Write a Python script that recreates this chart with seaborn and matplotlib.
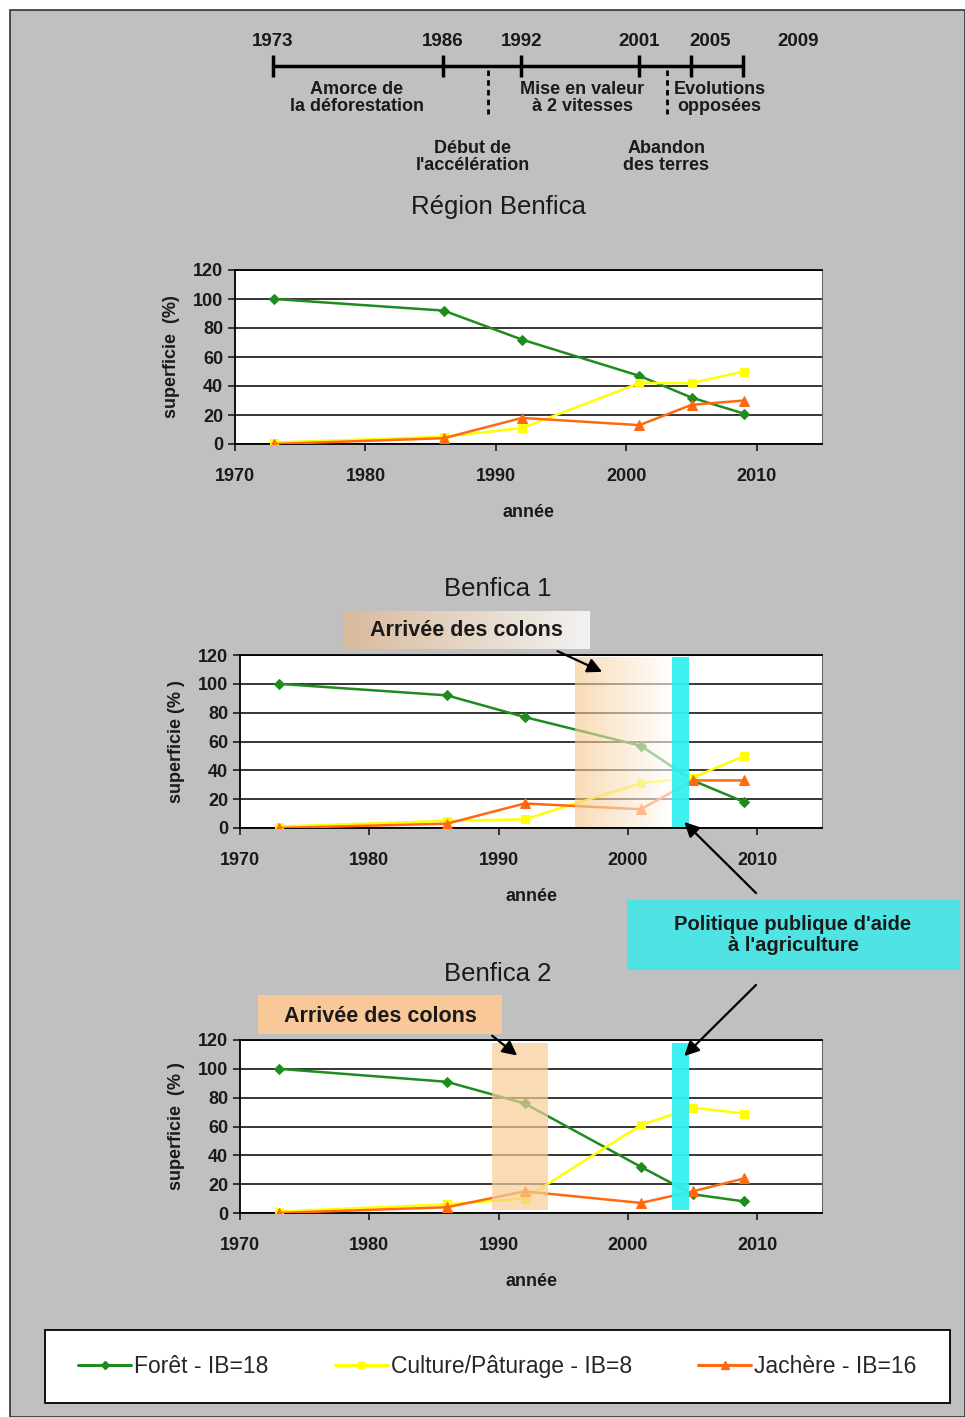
import numpy as np
import pandas as pd
import seaborn as sns
import matplotlib.pyplot as plt
from matplotlib.patches import Rectangle
from matplotlib.lines import Line2D

# data (superficie %, per year)
years = [1973, 1986, 1992, 2001, 2005, 2009]
series = ["Forêt - IB=18", "Culture/Pâturage - IB=8", "Jachère - IB=16"]

region_foret = [100, 92, 72, 47, 32, 21]
region_culture = [1, 5, 11, 42, 42, 50]
region_jachere = [0, 4, 18, 13, 27, 30]

b1_foret = [100, 92, 77, 57, 33, 18]
b1_culture = [1, 5, 6, 31, 35, 50]
b1_jachere = [0, 3, 17, 13, 33, 33]

b2_foret = [100, 91, 76, 32, 13, 8]
b2_culture = [1, 6, 10, 61, 73, 69]
b2_jachere = [0, 4, 15, 7, 15, 24]

# timeline on top
timeline_years = [1973, 1986, 1992, 2001, 2005, 2009]
timeline_label_shift = [0, 0, 0, 0, 1.45, 4.2]
phase_breaks = [1989.5, 2003.2]
phases_top = [("Amorce de\nla déforestation", 1979.4),
              ("Mise en valeur\nà 2 vitesses", 1996.7),
              ("Evolutions\nopposées", 2007.2)]
phases_bottom = [("Début de\nl'accélération", 1988.3),
                 ("Abandon\ndes terres", 2003.1)]

colors = ["#1e8c1e", "#ffff00", "#ff6a10"]
markers = ["D", "s", "^"]
msizes = [5, 6, 7]

GRAY = "#c0c0c0"
TXT = "#1a1a1a"

sns.set_style("ticks")
plt.rcParams['font.family'] = ['Liberation Sans', 'DejaVu Sans']

W, H = 965, 1417
def fx(x):
    return x / W
def fy(y):
    return 1 - y / H

fig = plt.figure(figsize=(W / 100, H / 100), dpi=100)
fig.patch.set_facecolor("white")
fig.add_artist(Rectangle((fx(10), 0), 1 - fx(10), fy(10), transform=fig.transFigure,
                         facecolor=GRAY, edgecolor="#333333", lw=1.2, zorder=0))

# ---- timeline ----
px_per_year = 13.06
tax = fig.add_axes([fx(200), fy(190), fx(870) - fx(200), 170 / H])
tax.set_xlim(1973 - 73 / px_per_year, 1973 + 597 / px_per_year)
tax.set_ylim(190, 20)
tax.axis("off")
tax.plot([timeline_years[0], timeline_years[-1]], [66, 66], color="black", lw=2.5)
tax.vlines(timeline_years, 55, 77, color="black", lw=2.5)
tax.vlines(phase_breaks, 70, 114, color="black", lw=2, linestyles=(0, (2, 1.5)))
for yr, sh in zip(timeline_years, timeline_label_shift):
    tax.text(yr + sh, 42, str(yr), ha="center", va="center", fontsize=13.5,
             fontweight="bold", color=TXT)
for txt, x in phases_top:
    tax.text(x, 98, txt, ha="center", va="center", fontsize=13, fontweight="bold",
             color=TXT, linespacing=1.05)
for txt, x in phases_bottom:
    tax.text(x, 157, txt, ha="center", va="center", fontsize=13, fontweight="bold",
             color=TXT, linespacing=1.05)

# ---- the three charts ----
panels = [
    ("Région Benfica", [region_foret, region_culture, region_jachere], (235, 270, 822, 444), "superficie  (%)", 207, None),
    ("Benfica 1", [b1_foret, b1_culture, b1_jachere], (240, 655, 822, 828), "superficie (% )", 589, (1995.9, 2003.4)),
    ("Benfica 2", [b2_foret, b2_culture, b2_jachere], (240, 1040, 822, 1213), "superficie  (% )", 974, (1989.5, 1993.8)),
]
policy_span = (2003.4, 2004.75)

axes = []
for i, (title, vals, (l, t, r, b), ylab, ty, colon) in enumerate(panels):
    ax = fig.add_axes([fx(l), fy(b), fx(r) - fx(l), (b - t) / H])
    ax.set_facecolor("white")
    for v, c, m, s in zip(vals, colors, markers, msizes):
        sns.lineplot(x=years, y=v, color=c, marker=m, markersize=s, markeredgecolor=c,
                     lw=1.8, ax=ax, zorder=3)
    ax.set_xlim(1970, 2015)
    ax.set_ylim(0, 120)
    ax.set_xticks(range(1970, 2011, 10))
    ax.set_yticks(range(0, 121, 20))
    ax.yaxis.grid(True, color="black", lw=1.1)
    ax.set_axisbelow(True)
    for sp in ["left", "bottom", "top"]:
        ax.spines[sp].set_color("black")
        ax.spines[sp].set_linewidth(1.3)
    ax.spines["right"].set_color("#666666")
    ax.spines["right"].set_linewidth(0.8)
    ax.tick_params(direction="out", length=5, width=1.2, labelsize=13, colors=TXT)
    ax.tick_params(axis="x", pad=12)
    for lab in ax.get_xticklabels() + ax.get_yticklabels():
        lab.set_fontweight("bold")
    ax.set_xlabel("année", fontsize=13, fontweight="bold", color=TXT, labelpad=14)
    ax.set_ylabel(ylab, fontsize=13, fontweight="bold", color=TXT, labelpad=9)
    fig.text(fx(498), fy(ty), title, ha="center", va="center", fontsize=18.5, color=TXT)

    if i == 1:
        # fading orange band
        n = 200
        grad = np.zeros((1, n, 4))
        c0 = np.array([0.96, 0.78, 0.55])
        c1 = np.array([1.0, 1.0, 1.0])
        tt = np.linspace(0, 1, n)[:, None]
        grad[0, :, :3] = c0 * (1 - tt) + c1 * tt
        grad[0, :, 3] = 0.62
        ax.imshow(grad, extent=[colon[0], colon[1], 1, 118.5], aspect="auto", zorder=4)
        ax.set_xlim(1970, 2015)
        ax.set_ylim(0, 120)
        ax.axvspan(*policy_span, ymin=0.005, ymax=0.99, color="#33f0f0", alpha=0.95, lw=0, zorder=5)
    if i == 2:
        ax.axvspan(*colon, ymin=2 / 120, ymax=118 / 120, color="#f7cd98", alpha=0.7, lw=0, zorder=4)
        ax.axvspan(*policy_span, ymin=2 / 120, ymax=118 / 120, color="#33f0f0", alpha=0.95, lw=0, zorder=5)
    axes.append(ax)

ax1, ax2, ax3 = axes
arrow = dict(arrowstyle="-|>", color="black", lw=1.6, mutation_scale=22)

# "Arrivée des colons" boxes
bax = fig.add_axes([fx(343), fy(649), fx(590) - fx(343), 38 / H])
n = 200
tt = np.linspace(0, 1, n)[:, None]
g = np.array([0.85, 0.73, 0.61]) * (1 - tt) + np.array([0.95, 0.95, 0.95]) * tt
bax.imshow(g[None, :, :], aspect="auto", extent=[0, 1, 0, 1])
bax.axis("off")
bax.text(0.5, 0.5, "Arrivée des colons", ha="center", va="center", fontsize=15.5,
         fontweight="bold", color=TXT)
ax2.annotate("", xy=(1998.2, 107.5), xytext=(fx(555), fy(650)), textcoords="figure fraction",
             arrowprops=arrow, annotation_clip=False, zorder=8)

fig.add_artist(Rectangle((fx(258), fy(1034)), fx(502) - fx(258), 39 / H, transform=fig.transFigure,
                         facecolor="#f9c898", lw=0, zorder=2))
fig.text(fx(380), fy(1016), "Arrivée des colons", ha="center", va="center", fontsize=15.5,
         fontweight="bold", color=TXT)
ax3.annotate("", xy=(1991.6, 108), xytext=(fx(490), fy(1034)), textcoords="figure fraction",
             arrowprops=arrow, annotation_clip=False, zorder=8)

# policy box
fig.add_artist(Rectangle((fx(627), fy(970)), fx(960) - fx(627), 70 / H, transform=fig.transFigure,
                         facecolor="#50e3e3", lw=0, zorder=2))
fig.text(fx(793), fy(935), "Politique publique d'aide\nà l'agriculture", ha="center", va="center",
         fontsize=14.5, fontweight="bold", color=TXT, linespacing=1.15)
ax2.annotate("", xy=(2004.2, 5.5), xytext=(fx(758), fy(895)), textcoords="figure fraction",
             arrowprops=arrow, annotation_clip=False, zorder=8)
ax3.annotate("", xy=(2004.2, 107.5), xytext=(fx(758), fy(983)), textcoords="figure fraction",
             arrowprops=arrow, annotation_clip=False, zorder=8)

# legend: white framed box, entries placed inside
fig.add_artist(Rectangle((fx(45), fy(1403)), fx(950) - fx(45), 73 / H, transform=fig.transFigure,
                         facecolor="white", edgecolor="black", lw=1.3, zorder=2))
handles = [Line2D([], [], color=c, marker=m, markersize=s - 1, markeredgecolor=c, lw=2.2)
           for c, m, s in zip(colors, markers, msizes)]
leg = fig.legend(handles, series, loc="center", ncol=3, mode="expand",
                 bbox_to_anchor=(fx(53), fy(1403), fx(942) - fx(53), 73 / H),
                 borderaxespad=0, fontsize=16.5, handlelength=2.3, handletextpad=0.15,
                 borderpad=1.1, frameon=False)
leg.set_zorder(3)

fig.savefig("out.png", dpi=100, facecolor=fig.get_facecolor())
